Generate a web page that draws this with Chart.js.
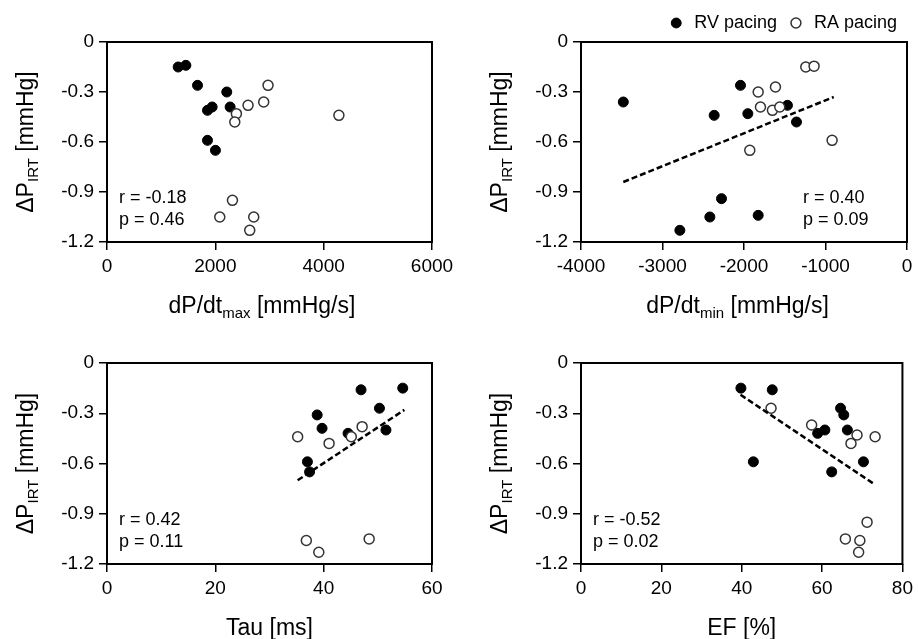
<!DOCTYPE html>
<html>
<head>
<meta charset="utf-8">
<script src="https://cdn.jsdelivr.net/npm/chart.js@4.4.1/dist/chart.umd.min.js"></script>
<style>
  html, body { margin: 0; padding: 0; background: #fff; }
  #wrap { position: relative; width: 918px; height: 639px; }
  canvas { position: absolute; }
</style>
</head>
<body>
<div id="wrap">
  <canvas id="c1" width="459" height="320" style="left:0;top:0"></canvas>
  <canvas id="c2" width="459" height="320" style="left:459px;top:0"></canvas>
  <canvas id="c3" width="459" height="319" style="left:0;top:320px"></canvas>
  <canvas id="c4" width="459" height="319" style="left:459px;top:320px"></canvas>
</div>
<script>
// shared y axis
const yTicks = [0, -0.3, -0.6, -0.9, -1.2];
const seriesNames = ['RV pacing', 'RA pacing'];

// dP/dt max
const dpMaxTicks = [0, 2000, 4000, 6000];
const dpMaxRVx = [1314, 1456, 1671, 2211, 1941, 1855, 2273, 1855, 2002];
const dpMaxRVy = [-0.15, -0.14, -0.26, -0.30, -0.39, -0.41, -0.39, -0.59, -0.65];
const dpMaxRAx = [2973, 2604, 2893, 2389, 2359, 4281, 2316, 2082, 2709, 2635];
const dpMaxRAy = [-0.26, -0.38, -0.36, -0.43, -0.48, -0.44, -0.95, -1.05, -1.05, -1.13];
const dpMaxStats = ['r = -0.18', 'p = 0.46'];

// dP/dt min
const dpMinTicks = [-4000, -3000, -2000, -1000, 0];
const dpMinRVx = [-3481, -2366, -2043, -1953, -1467, -1356, -2276, -2419, -2787, -1826];
const dpMinRVy = [-0.36, -0.44, -0.26, -0.43, -0.38, -0.48, -0.94, -1.05, -1.13, -1.04];
const dpMinRAx = [-1242, -1140, -1826, -1614, -1798, -1651, -1561, -1929, -919];
const dpMinRAy = [-0.15, -0.145, -0.30, -0.27, -0.39, -0.41, -0.39, -0.65, -0.59];
const dpMinFitX = [-3481, -899];
const dpMinFitY = [-0.84, -0.33];
const dpMinStats = ['r = 0.40', 'p = 0.09'];

// Tau
const tauTicks = [0, 20, 40, 60];
const tauRVx = [46.9, 54.6, 38.8, 50.3, 39.7, 44.5, 51.5, 37.0, 37.4];
const tauRVy = [-0.16, -0.15, -0.31, -0.27, -0.39, -0.42, -0.40, -0.59, -0.65];
const tauRAx = [35.2, 41.0, 45.1, 47.1, 36.8, 39.1, 48.4];
const tauRAy = [-0.44, -0.48, -0.44, -0.38, -1.06, -1.13, -1.05];
const tauFitX = [35.2, 54.9];
const tauFitY = [-0.70, -0.28];
const tauStats = ['r = 0.42', 'p = 0.11'];

// EF
const efTicks = [0, 20, 40, 60, 80];
const efRVx = [39.8, 47.6, 64.6, 65.4, 58.9, 60.7, 66.3, 42.9, 62.4, 70.3];
const efRVy = [-0.15, -0.16, -0.27, -0.31, -0.42, -0.40, -0.40, -0.59, -0.65, -0.59];
const efRAx = [47.3, 57.4, 68.7, 67.2, 73.2, 65.8, 69.4, 71.2, 69.1];
const efRAy = [-0.27, -0.37, -0.43, -0.48, -0.44, -1.05, -1.06, -0.95, -1.13];
const efFitX = [39.7, 72.8];
const efFitY = [-0.19, -0.72];
const efStats = ['r = -0.52', 'p = 0.02'];

const FONT = '"Liberation Sans", Arial, sans-serif';
const yTitle = [{ t: 'ΔP' }, { t: 'IRT', sub: true }, { t: ' [mmHg]' }];

const zip = (xs, ys) => xs.map((x, i) => ({ x: x, y: ys[i] }));

function richWidth(ctx, parts, full) {
  let w = 0;
  parts.forEach(p => {
    ctx.font = (p.sub && !full ? 15 : 23) + 'px ' + FONT;
    w += ctx.measureText(p.t).width;
  });
  return w;
}

function drawRich(ctx, parts, x, y) {
  parts.forEach(p => {
    ctx.font = (p.sub ? 15 : 23) + 'px ' + FONT;
    ctx.fillText(p.t, x, y + (p.sub ? 5 : 0));
    x += ctx.measureText(p.t).width;
  });
}

function decor(p) {
  return {
    id: 'decor',
    beforeDatasetsDraw(chart) {
      const { ctx, chartArea: a } = chart;
      ctx.save();
      ctx.strokeStyle = '#000';
      ctx.lineWidth = 2;
      ctx.strokeRect(a.left, a.top, a.right - a.left, a.bottom - a.top);
      ctx.restore();
    },
    afterDraw(chart) {
      const { ctx, chartArea: a } = chart;
      ctx.save();
      ctx.fillStyle = '#000';
      ctx.textAlign = 'left';
      ctx.textBaseline = 'alphabetic';
      // x title, centred as if the subscript were full size
      const cx = (a.left + a.right) / 2;
      drawRich(ctx, p.xTitle, cx - richWidth(ctx, p.xTitle, true) / 2, a.bottom + 71);
      // stats
      ctx.font = '18px ' + FONT;
      const sx = p.statsRight ? a.right - 104 : a.left + 12;
      ctx.fillText(p.stats[0], sx, a.bottom - 39);
      ctx.fillText(p.stats[1], sx, a.bottom - 17);
      // y title
      ctx.translate(a.left - 74, (a.top + a.bottom) / 2);
      ctx.rotate(-Math.PI / 2);
      drawRich(ctx, yTitle, -richWidth(ctx, yTitle, false) / 2, 0);
      ctx.restore();
    }
  };
}

function axis(min, max, ticks, fit) {
  return {
    type: 'linear',
    min: min,
    max: max,
    afterBuildTicks: s => { s.ticks = ticks.map(v => ({ value: v })); },
    afterFit: fit,
    grid: { display: true, drawOnChartArea: false, drawTicks: true, tickLength: 8, color: '#000', lineWidth: 1.5 },
    border: { display: false },
    ticks: { color: '#000', font: { size: 19, family: FONT }, padding: 5, maxRotation: 0, callback: v => String(v) }
  };
}

function makeChart(id, p) {
  const datasets = [
    {
      label: seriesNames[0], data: zip(p.rvX, p.rvY), order: 2,
      backgroundColor: '#000', borderColor: '#000', borderWidth: 1, pointRadius: 5, pointStyle: 'circle'
    },
    {
      label: seriesNames[1], data: zip(p.raX, p.raY), order: 1,
      backgroundColor: '#fff', borderColor: '#333', borderWidth: 1.5, pointRadius: 5, pointStyle: 'circle'
    }
  ];
  if (p.fitX) {
    datasets.push({
      label: 'fit', data: zip(p.fitX, p.fitY), order: 0, showLine: true,
      borderColor: '#000', borderWidth: 2.5, borderDash: [6, 3], pointRadius: 0, fill: false
    });
  }
  new Chart(document.getElementById(id), {
    type: 'scatter',
    data: { datasets: datasets },
    options: {
      responsive: false,
      animation: false,
      events: [],
      layout: { padding: { left: 0, top: p.top, right: p.right, bottom: 0 } },
      plugins: {
        tooltip: { enabled: false },
        legend: {
          display: !!p.legend,
          position: 'top',
          align: 'end',
          labels: {
            usePointStyle: true, pointStyle: 'circle', boxWidth: 18, boxHeight: 7, padding: 10,
            color: '#000', font: { size: 18, family: FONT },
            filter: item => item.datasetIndex < 2,
            sort: (a, b) => a.datasetIndex - b.datasetIndex
          }
        }
      },
      scales: {
        x: axis(p.xMin, p.xMax, p.xTicks, s => { s.height = p.xH; }),
        y: axis(-1.2, 0, yTicks, s => { s.width = p.yW; })
      }
    },
    plugins: [decor(p)]
  });
}

makeChart('c1', {
  rvX: dpMaxRVx, rvY: dpMaxRVy, raX: dpMaxRAx, raY: dpMaxRAy,
  xMin: 0, xMax: 6000, xTicks: dpMaxTicks, stats: dpMaxStats,
  xTitle: [{ t: 'dP/dt' }, { t: 'max', sub: true }, { t: ' [mmHg/s]' }],
  top: 42, right: 27, xH: 78, yW: 107
});
makeChart('c2', {
  rvX: dpMinRVx, rvY: dpMinRVy, raX: dpMinRAx, raY: dpMinRAy, fitX: dpMinFitX, fitY: dpMinFitY,
  xMin: -4000, xMax: 0, xTicks: dpMinTicks, stats: dpMinStats, statsRight: true,
  xTitle: [{ t: 'dP/dt' }, { t: 'min', sub: true }, { t: ' [mmHg/s]' }],
  top: 4, right: 11, xH: 78, yW: 122, legend: true
});
makeChart('c3', {
  rvX: tauRVx, rvY: tauRVy, raX: tauRAx, raY: tauRAy, fitX: tauFitX, fitY: tauFitY,
  xMin: 0, xMax: 60, xTicks: tauTicks, stats: tauStats,
  xTitle: [{ t: 'Tau [ms]' }],
  top: 43, right: 27, xH: 75, yW: 107
});
makeChart('c4', {
  rvX: efRVx, rvY: efRVy, raX: efRAx, raY: efRAy, fitX: efFitX, fitY: efFitY,
  xMin: 0, xMax: 80, xTicks: efTicks, stats: efStats,
  xTitle: [{ t: 'EF [%]' }],
  top: 43, right: 11, xH: 75, yW: 122
});
</script>
</body>
</html>
